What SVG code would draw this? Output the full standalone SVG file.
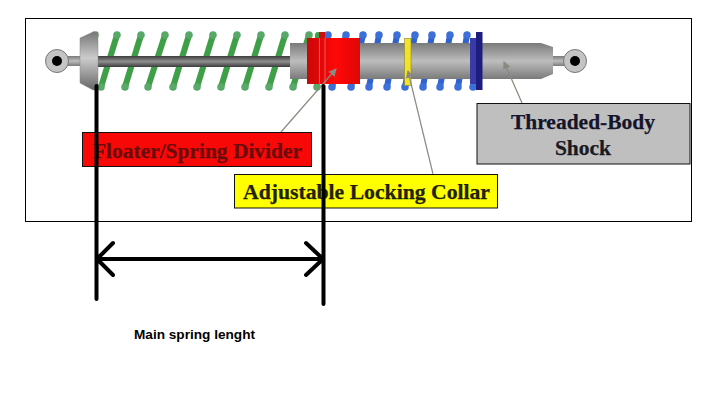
<svg xmlns="http://www.w3.org/2000/svg" width="718" height="400" viewBox="0 0 718 400">
<style>
.lab{font-family:"Liberation Serif","Times New Roman",serif;font-weight:bold;font-size:21.5px;stroke-width:.25px}
.box{stroke:#111;stroke-width:1}
.g{stroke:#3f9f48;stroke-width:6;stroke-linecap:round;fill:none}
.b{stroke:#2f63cf;stroke-width:6;stroke-linecap:round;fill:none}
.ge{stroke:#5aa868;stroke-width:7.500;stroke-linecap:round;fill:none}
.be{stroke:#3c6fd8;stroke-width:7.500;stroke-linecap:round;fill:none}
.lead{stroke:#8a8a80;stroke-width:1.2;fill:none}
.dim{stroke:#000;stroke-width:4;stroke-linecap:round;stroke-linejoin:round;fill:none}
</style>
<defs>
<linearGradient id="metal" x1="0" y1="0" x2="0" y2="1"><stop offset="0" stop-color="#7a7a7a"/><stop offset=".5" stop-color="#bdbdbd"/><stop offset="1" stop-color="#7a7a7a"/></linearGradient>
<linearGradient id="rod" x1="0" y1="0" x2="0" y2="1"><stop offset="0" stop-color="#3c3c3c"/><stop offset=".5" stop-color="#8e8e8e"/><stop offset="1" stop-color="#3c3c3c"/></linearGradient>
<linearGradient id="cap" x1="0" y1="0" x2="0" y2="1"><stop offset="0" stop-color="#777"/><stop offset=".45" stop-color="#ccc"/><stop offset="1" stop-color="#666"/></linearGradient>
<linearGradient id="red" x1="0" y1="0" x2="1" y2="0"><stop offset="0" stop-color="#c80808"/><stop offset=".55" stop-color="#ff0808"/><stop offset="1" stop-color="#e00606"/></linearGradient>
<marker id="tip" markerWidth="9" markerHeight="9" refX="7" refY="4" orient="auto" markerUnits="userSpaceOnUse"><path d="M0,0L8,4L0,8Z" fill="#8a8a80"/></marker>
</defs>
<rect width="718" height="400" fill="#fff"/>
<rect id="frame" x="25.500" y="18.500" width="666" height="203" fill="#fff" stroke="#000"/>
<g id="main-spring">
<path class="g" d="M101 87L117 35M125 87L141 35M148 87L165 35M173 87L189 35M197 87L213 35M221 87L237 35M245 87L261 35M269 87L285 35M293 87L309 35M317 87L318 35"/>
<path class="ge" d="M95 35h0M101 87h0M117 35h0M125 87h0M141 35h0M148 87h0M165 35h0M173 87h0M189 35h0M197 87h0M213 35h0M221 87h0M237 35h0M245 87h0M261 35h0M269 87h0M285 35h0M293 87h0M309 35h0M317 87h0"/>
</g>
<g id="secondary-spring">
<path class="b" d="M332 87L346 35M351 87L363 35M369 87L379 35M387 87L397 35M405 87L415 35M423 87L432 35M440 87L450 35M458 87L467 35"/>
<path class="be" d="M328 35h0M332 87h0M346 35h0M351 87h0M363 35h0M369 87h0M379 35h0M387 87h0M397 35h0M405 87h0M415 35h0M423 87h0M432 35h0M440 87h0M450 35h0M458 87h0M467 35h0M473 87h0"/>
</g>
<g id="shock">
<path d="M67 56H84V66H67Z" fill="url(#metal)"/>
<circle cx="57" cy="61" r="11.500" fill="#c4c4c4" stroke="#777"/>
<circle cx="57" cy="61" r="5" fill="#000"/>
<rect x="97" y="56" width="194" height="11" fill="url(#rod)"/>
<path d="M80 38L93 32H98V90H93L80 83Z" fill="url(#cap)" stroke="#888" stroke-width=".5"/>
<path d="M290 43H541L553 47V74L541 79H290Z" fill="url(#metal)"/>
<path d="M553 56H570V66H553Z" fill="url(#metal)"/>
<circle cx="575" cy="61" r="11.500" fill="#c4c4c4" stroke="#777"/>
<circle cx="575" cy="61" r="5" fill="#000"/>
</g>
<g id="floater">
<rect x="307" y="38" width="53" height="46" fill="url(#red)"/>
<rect x="319" y="32" width="6" height="6" fill="#c81010"/>
<path d="M319.500 38V84M325 38V84" stroke="#f07070" stroke-width=".8"/>
</g>
<rect id="locking-collar" x="404.500" y="38.500" width="6.500" height="47" fill="#f2e22a" stroke="#8a8a30" stroke-width=".6"/>
<g id="thread-collar">
<rect x="470" y="38" width="7" height="46" fill="#3a3aa8"/>
<rect x="476" y="32" width="6.500" height="58" fill="#1d1d80"/>
</g>
<g id="connectors">
<path class="lead" d="M281 132L336 69" marker-end="url(#tip)"/>
<path class="lead" d="M433 174L408 71" marker-end="url(#tip)"/>
<path class="lead" d="M522 103L504 62" marker-end="url(#tip)"/>
</g>
<g id="label-floater">
<rect class="box" x="82.500" y="132.500" width="229" height="34" fill="#f90808"/>
<text class="lab" x="197.500" y="158" text-anchor="middle" fill="#6a0c0c" stroke="#6a0c0c" textLength="209" lengthAdjust="spacingAndGlyphs">Floater/Spring Divider</text>
</g>
<g id="label-collar">
<rect class="box" x="234.500" y="174.500" width="263" height="33.500" fill="#ffff00"/>
<text class="lab" x="366.500" y="199" text-anchor="middle" fill="#222208" stroke="#222208" textLength="247" lengthAdjust="spacingAndGlyphs">Adjustable Locking Collar</text>
</g>
<g id="label-shock">
<rect class="box" x="477" y="103.500" width="213" height="60.500" fill="#bfbfbf"/>
<text class="lab" x="583" y="129" text-anchor="middle" fill="#14142a" stroke="#14142a">Threaded-Body</text>
<text class="lab" x="583" y="155" text-anchor="middle" fill="#1a1a22" stroke="#1a1a22">Shock</text>
</g>
<g id="dimension">
<path class="dim" d="M96.500 86V299M323.500 86V304M97 259H323M113 243L97 259L113 275M306 243L323 259L306 275"/>
</g>
<text id="dimension-label" x="134" y="339" font-family="'Liberation Sans',Arial,sans-serif" font-weight="bold" font-size="12px" fill="#000" textLength="121" lengthAdjust="spacingAndGlyphs">Main spring lenght</text>
</svg>
